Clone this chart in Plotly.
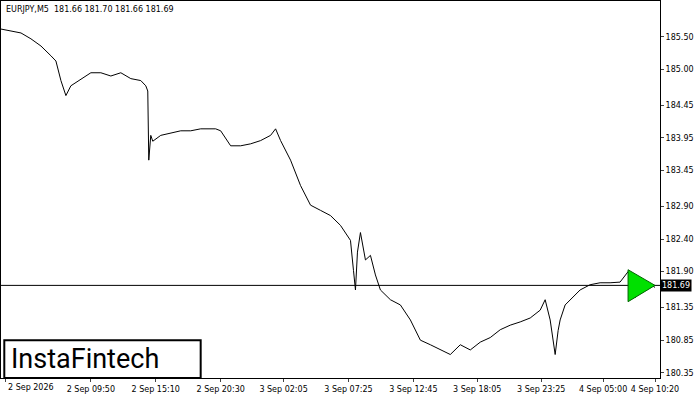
import plotly.graph_objects as go

bar_idx = [0,10,20,30,40,50,55,60,65,70,75,80,90,100,110,120,130,140,145,147,148,150,152,160,170,180,190,200,215,220,230,240,250,260,270,275,280,290,300,310,320,330,340,350,353,355,357,360,365,370,375,380,390,400,410,420,430,440,450,460,470,480,490,500,510,520,530,540,545,550,555,558,560,565,570,580,590,600,610,620,628,630,635,640,650,655]
close = [185.62,185.59,185.56,185.47,185.36,185.21,185.13,184.83,184.60,184.75,184.80,184.86,184.95,184.95,184.90,184.95,184.86,184.83,184.75,184.67,183.61,183.99,183.90,183.99,184.03,184.06,184.06,184.09,184.09,184.06,183.83,183.83,183.86,183.91,183.99,184.09,183.91,183.61,183.22,182.92,182.84,182.76,182.61,182.38,181.92,181.62,182.20,182.50,182.08,182.15,181.85,181.62,181.47,181.39,181.16,180.85,180.78,180.70,180.63,180.78,180.70,180.82,180.89,181.01,181.08,181.13,181.19,181.31,181.47,181.16,180.63,181.00,181.16,181.39,181.47,181.62,181.70,181.73,181.73,181.74,181.90,181.85,181.50,181.70,181.70,181.66]
last_price = 181.69
tick_pos = [5,90,155,220,283,348,413,477,541,603,655]
tick_labels = ["2 Sep 2026","2 Sep 09:50","2 Sep 15:10","2 Sep 20:30","3 Sep 02:05","3 Sep 07:25","3 Sep 12:45","3 Sep 18:05","3 Sep 23:25","4 Sep 05:00","4 Sep 10:20"]
y_ticks = [185.50,185.00,184.45,183.95,183.45,182.90,182.40,181.90,181.35,180.85,180.35]

fnt = dict(size=8, family="DejaVu Sans", color="black")
fig = go.Figure(go.Scatter(x=bar_idx, y=close, mode="lines", line=dict(color="black", width=1), hoverinfo="skip"))
fig.add_hline(y=last_price, line=dict(color="black", width=1))
fig.add_shape(type="path", path="M 628 181.93 L 655 181.69 L 628 181.44 Z",
              fillcolor="#00e000", line=dict(color="#006400", width=1))
fig.add_annotation(x=1, xref="paper", y=last_price, xanchor="left", text="181.69", showarrow=False,
                   bgcolor="black", font=dict(color="white", size=8, family="DejaVu Sans"), borderpad=1)
fig.add_annotation(x=0.005, y=0.995, xref="paper", yref="paper", xanchor="left", yanchor="top", showarrow=False,
                   text="EURJPY,M5  181.66 181.70 181.66 181.69", font=fnt)
fig.add_annotation(x=tick_pos[0], y=0, yref="paper", xanchor="left", yanchor="top", yshift=-3, showarrow=False,
                   text=tick_labels[0], font=fnt)
fig.add_shape(type="rect", xref="paper", yref="paper", x0=0.005, x1=0.303, y0=0.0, y1=0.1, fillcolor="white",
              line=dict(color="black", width=2))
fig.add_annotation(x=0.012, y=0.05, xref="paper", yref="paper", xanchor="left", yanchor="middle", showarrow=False,
                   text="InstaFintech", font=dict(size=27, family="Roboto", color="black"))
fig.update_layout(width=700, height=400, margin=dict(l=1, r=40, t=1, b=22, autoexpand=False),
                  plot_bgcolor="white", paper_bgcolor="white", showlegend=False,
                  xaxis=dict(range=[0, 660], tickvals=tick_pos, ticktext=[""] + tick_labels[1:], tickangle=0,
                             showgrid=False, zeroline=False, showline=True, linecolor="black", mirror=True,
                             ticks="outside", ticklen=3, tickfont=fnt, automargin=False),
                  yaxis=dict(range=[180.27, 186.05], side="right", tickvals=y_ticks,
                             ticktext=[f"{v:.2f}" for v in y_ticks], automargin=False,
                             showgrid=False, zeroline=False, showline=True, linecolor="black", mirror=True,
                             ticks="outside", ticklen=3, tickfont=fnt))
fig.write_html("out.html", config={"displayModeBar": False})
with open("out.html", encoding="utf-8") as f:
    html = f.read()
html = html.replace("<head>", "<head><style>html,body{margin:0;padding:0;overflow:hidden}</style>", 1)
with open("out.html", "w", encoding="utf-8") as f:
    f.write(html)
